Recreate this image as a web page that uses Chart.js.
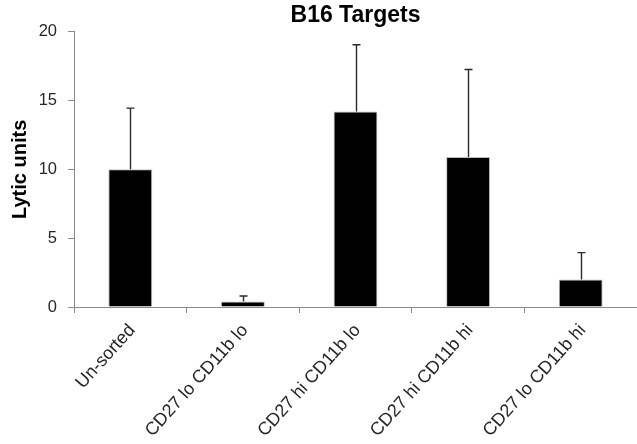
<!DOCTYPE html>
<html>
<head>
<meta charset="utf-8">
<title>B16 Targets</title>
<script src="https://cdn.jsdelivr.net/npm/chart.js@4.4.1/dist/chart.umd.min.js"></script>
<style>
  html, body { margin: 0; padding: 0; background: #ffffff; }
  canvas { display: block; }
</style>
</head>
<body>
<canvas id="chart" width="637" height="444"></canvas>
<script>
// Cell subsets tested against B16 targets
const categories = ['Un-sorted', 'CD27 lo CD11b lo', 'CD27 hi CD11b lo', 'CD27 hi CD11b hi', 'CD27 lo CD11b hi'];
// Mean lytic units per subset
const lyticUnits = [10.0, 0.4, 14.2, 10.9, 2.0];
// Upper error (SD) per subset
const lyticError = [4.45, 0.4, 4.85, 6.35, 1.95];
// Y axis range and step
const yTicks = [0, 5, 10, 15, 20];

const FONT = "'Liberation Sans', Arial, Helvetica, sans-serif";
const AXIS_GREY = '#8a8a8a';
const TEXT_DARK = '#262626';

// Draws the upward error whiskers with a small cap on top of each bar
const errorBars = {
  id: 'errorBars',
  afterDatasetsDraw(chart) {
    const meta = chart.getDatasetMeta(0);
    const yScale = chart.scales.y;
    const ctx = chart.ctx;
    ctx.save();
    ctx.strokeStyle = '#2a2a2a';
    ctx.lineWidth = 1.4;
    meta.data.forEach((bar, i) => {
      const top = yScale.getPixelForValue(lyticUnits[i] + lyticError[i]);
      const x = Math.round(bar.x) + 0.5;
      ctx.beginPath();
      ctx.moveTo(x, bar.y);
      ctx.lineTo(x, top);
      ctx.moveTo(x - 4, top);
      ctx.lineTo(x + 4, top);
      ctx.stroke();
    });
    ctx.restore();
  }
};

new Chart(document.getElementById('chart'), {
  type: 'bar',
  data: {
    labels: categories,
    datasets: [{
      data: lyticUnits,
      backgroundColor: '#000000',
      borderColor: '#bdbdbd',
      borderWidth: 1,
      categoryPercentage: 1.0,
      barPercentage: 0.39
    }]
  },
  options: {
    responsive: false,
    devicePixelRatio: 1,
    animation: false,
    layout: { padding: { left: 0, right: 0, top: 0, bottom: 0 } },
    plugins: {
      legend: { display: false },
      tooltip: { enabled: false },
      title: {
        display: true,
        text: 'B16 Targets',
        fullSize: false,
        color: '#000000',
        font: { family: FONT, size: 23, weight: 'bold' },
        padding: { top: 2, bottom: 2.1 }
      }
    },
    scales: {
      x: {
        grid: {
          display: true,
          drawOnChartArea: false,
          offset: true,
          color: AXIS_GREY,
          tickLength: 6,
          lineWidth: 1
        },
        border: { display: true, color: AXIS_GREY, width: 1 },
        ticks: {
          autoSkip: false,
          maxRotation: 48,
          minRotation: 48,
          padding: 7,
          labelOffset: 2,
          color: TEXT_DARK,
          font: { family: FONT, size: 18 }
        },
        afterFit(scale) { scale.height = 137; }
      },
      y: {
        min: yTicks[0],
        max: yTicks[yTicks.length - 1],
        afterBuildTicks(scale) { scale.ticks = yTicks.map(v => ({ value: v })); },
        grid: {
          display: true,
          drawOnChartArea: false,
          color: AXIS_GREY,
          tickLength: 6,
          lineWidth: 1
        },
        border: { display: true, color: AXIS_GREY, width: 1 },
        ticks: {
          padding: 11,
          color: TEXT_DARK,
          font: { family: FONT, size: 16.5 }
        },
        title: {
          display: true,
          text: 'Lytic units',
          color: '#000000',
          font: { family: FONT, size: 20, weight: 'bold' },
          padding: { top: 8, bottom: 0 }
        },
        afterFit(scale) { scale.width = 74; }
      }
    }
  },
  plugins: [errorBars]
});
</script>
</body>
</html>
